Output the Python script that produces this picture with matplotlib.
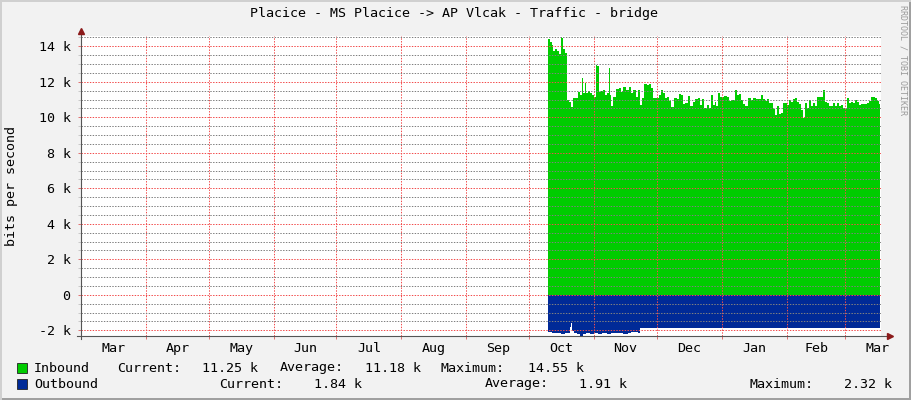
import matplotlib
matplotlib.use("Agg")
import matplotlib.pyplot as plt
from matplotlib.patches import Rectangle
from matplotlib.ticker import FixedLocator, MultipleLocator, FuncFormatter

# -------------------- data (days since 1 Mar, values in k bit/s) --------------------
month_labels = ['Mar', 'Apr', 'May', 'Jun', 'Jul', 'Aug', 'Sep',
                'Oct', 'Nov', 'Dec', 'Jan', 'Feb', 'Mar']
month_starts = [0, 31, 61, 92, 122, 153, 184, 214, 245, 275, 306, 337, 365, 396]

in_days = [223.0, 224.0, 224.9, 225.5, 226.5, 227.5, 228.1, 229.1, 229.7, 230.3,
           231.3, 232.3, 233.2, 234.1, 235.1, 236.4, 237.3, 238.3, 239.2, 239.9,
           240.5, 241.2, 242.1, 243.1, 244.0, 245.0, 245.9, 246.6, 247.2, 248.2,
           249.4, 250.4, 251.3, 252.0, 252.6, 253.2, 254.2, 255.5, 256.8, 258.0,
           259.0, 260.3, 261.6, 262.5, 263.8, 265.0, 266.0, 266.9, 267.9, 268.8,
           270.1, 271.4, 272.3, 273.3, 274.6, 275.9, 276.8, 277.8, 279.0, 280.0,
           280.9, 281.9, 283.2, 284.5, 285.7, 286.7, 287.6, 288.6, 289.8, 290.8,
           292.1, 293.4, 294.6, 295.6, 296.5, 297.5, 298.8, 299.7, 300.7, 301.7,
           302.6, 303.2, 304.2, 305.2, 306.1, 307.1, 308.4, 309.3, 310.6, 311.5,
           312.5, 313.4, 314.4, 315.3, 316.3, 317.2, 318.5, 319.8, 321.1, 322.3,
           323.6, 324.6, 325.5, 326.5, 327.4, 328.4, 329.3, 330.3, 331.2, 332.2,
           333.2, 334.1, 335.1, 336.0, 337.0, 337.9, 338.9, 340.2, 341.1, 342.1,
           343.0, 344.0, 344.6, 345.6, 346.5, 347.8, 348.8, 349.7, 350.7, 351.6,
           352.9, 354.2, 355.1, 356.1, 357.0, 358.0, 359.0, 359.9, 360.9, 361.8,
           362.8, 363.7, 364.7, 365.6, 366.6, 367.5, 368.5, 369.4, 370.4, 371.3,
           372.6, 373.9, 375.2, 376.1, 377.1, 378.3, 379.3, 380.3, 381.2, 381.7]
inbound = [14.41, 14.27, 14.08, 13.76, 13.86, 13.76, 13.56, 14.52, 14.46, 13.84,
           13.65, 10.98, 10.89, 10.56, 11.08, 11.08, 11.45, 11.27, 12.23, 11.37,
           11.93, 11.37, 11.49, 11.37, 11.27, 11.17, 12.96, 12.90, 11.40, 11.49,
           11.55, 11.27, 11.37, 12.77, 11.27, 10.61, 11.17, 11.60, 11.64, 11.45,
           11.73, 11.55, 11.73, 11.37, 11.55, 11.17, 11.55, 10.71, 11.08, 11.87,
           11.83, 11.88, 11.64, 11.08, 11.08, 11.27, 11.51, 11.37, 11.08, 11.13,
           10.94, 10.56, 11.08, 11.02, 11.31, 11.27, 10.76, 10.80, 11.22, 10.61,
           10.89, 11.04, 11.11, 10.71, 11.02, 10.52, 10.71, 10.52, 11.27, 10.71,
           10.89, 10.65, 11.37, 11.17, 11.17, 11.22, 11.17, 10.94, 10.98, 10.98,
           11.55, 11.27, 11.33, 10.98, 10.76, 10.65, 11.08, 10.98, 11.08, 11.02,
           11.02, 11.27, 11.02, 10.94, 11.02, 10.80, 10.80, 10.46, 10.14, 10.61,
           10.20, 10.27, 10.83, 10.80, 10.71, 10.98, 10.89, 11.02, 11.08, 10.89,
           10.76, 10.42, 9.96, 10.83, 10.52, 10.98, 10.65, 10.83, 10.65, 11.17,
           11.17, 11.51, 10.89, 10.80, 10.65, 10.61, 10.80, 10.65, 10.80, 10.61,
           10.71, 10.52, 10.46, 11.08, 10.80, 10.89, 10.83, 10.98, 10.89, 10.71,
           10.74, 10.74, 10.80, 10.94, 11.13, 11.17, 11.08, 10.94, 10.76, 10.76]

out_days = [223.0, 225.0, 227.0, 229.0, 231.0, 232.5, 233.5, 234.0, 234.6, 235.5,
            237.0, 238.5, 239.5, 241.0, 243.0, 245.0, 247.0, 249.0, 251.0, 253.0,
            255.0, 257.0, 259.0, 261.0, 262.5, 264.0, 266.0, 267.0, 290.0, 320.0,
            350.0, 381.7]
outbound = [2.12, 2.15, 2.13, 2.18, 2.14, 2.16, 1.80, 1.61, 2.05, 2.16,
            2.20, 2.32, 2.19, 2.15, 2.18, 2.14, 2.19, 2.16, 2.20, 2.15,
            2.17, 2.14, 2.19, 2.13, 2.10, 2.12, 2.15, 1.87, 1.87, 1.87,
            1.87, 1.87]

legend_rows = [
    ('Inbound', '#00CC00', [('Current:', '11.25 k'), ('Average:', '11.18 k'), ('Maximum:', '14.55 k')]),
    ('Outbound', '#002A97', [('Current:', '1.84 k'), ('Average:', '1.91 k'), ('Maximum:', '2.32 k')]),
]

# -------------------- figure --------------------
W, H = 911, 400
BG = '#F2F2F2'
MONO = 'DejaVu Sans Mono'
FS = 9.6

def fx(px):
    return px / W

def fy(py):
    return 1 - py / H

fig = plt.figure(figsize=(W / 100, H / 100), dpi=100, facecolor=BG)
ax = fig.add_axes([fx(81), fy(336), 800 / W, 300 / H])
ax.set_facecolor('white')

ax.fill_between(in_days, [v * 1000 for v in inbound], step='post',
                color='#00CC00', lw=0, zorder=1)
ax.fill_between(out_days, [-v * 1000 for v in outbound], step='post',
                color='#002A97', lw=0, zorder=1)

ax.set_xlim(0, 382)
ax.set_ylim(-2320, 14580)

# grid (drawn over the data like rrdtool)
dot = (0, (1.4, 1.4))
major_col = (0.95, 0.3, 0.3, 0.34)
minor_col = (0.5, 0.5, 0.5, 0.2)
ax.set_axisbelow(False)
ax.yaxis.set_major_locator(MultipleLocator(2000))
ax.yaxis.set_minor_locator(MultipleLocator(500))
ax.yaxis.set_major_formatter(FuncFormatter(
    lambda v, p: '0' if v == 0 else f'{int(v / 1000)} k'))
ax.grid(True, axis='y', which='minor', color=minor_col, lw=0.72, linestyle=dot)
ax.grid(True, axis='y', which='major', color=major_col, lw=0.72, linestyle=dot)

ax.xaxis.set_major_locator(FixedLocator(month_starts[1:13]))
ax.xaxis.set_major_formatter(FuncFormatter(lambda v, p: ''))
mids = [(a + b) / 2 for a, b in zip(month_starts[:-1], month_starts[1:])]
ax.xaxis.set_minor_locator(FixedLocator(mids))
ax.xaxis.set_minor_formatter(FuncFormatter(lambda v, p: month_labels[mids.index(v)] if v in mids else ''))
ax.grid(True, axis='x', which='major', color=major_col, lw=0.72, linestyle=dot)

ax.tick_params(axis='y', which='major', length=2.5, width=0.7, color='#E07070',
               labelsize=FS, pad=5, labelfontfamily=MONO)
ax.tick_params(axis='y', which='minor', length=2, width=0.7, color='#C8C8C8')
ax.tick_params(axis='x', which='major', length=2.5, width=0.7, color='#E07070')
ax.tick_params(axis='x', which='minor', length=0, labelsize=FS, pad=4,
               labelfontfamily=MONO)

for s in ax.spines.values():
    s.set_visible(False)

# axis lines with arrows
axis_col = '#555555'
ax.plot([0, 0], [-3 / 300, 1 + 3 / 300], transform=ax.transAxes, color=axis_col,
        lw=0.8, clip_on=False, zorder=5)
ax.plot([-4 / 800, 1 + 7 / 800], [0, 0], transform=ax.transAxes, color=axis_col,
        lw=0.8, clip_on=False, zorder=5)
ax.plot([0], [1 + 5 / 300], marker='^', ms=4, color='#8B1A1A', transform=ax.transAxes,
        clip_on=False, zorder=6)
ax.plot([1 + 9 / 800], [0], marker='>', ms=4, color='#8B1A1A', transform=ax.transAxes,
        clip_on=False, zorder=6)

# title, axis label, watermark
fig.text(fx(454), fy(13), 'Placice - MS Placice -> AP Vlcak - Traffic - bridge',
         ha='center', va='center', family=MONO, fontsize=FS)
fig.text(fx(12), fy(186), 'bits per second', rotation=90, ha='center', va='center',
         family=MONO, fontsize=FS)
fig.text(fx(903), fy(60), 'RRDTOOL / TOBI OETIKER', rotation=270, ha='center',
         va='center', family=MONO, fontsize=6, color='#9A9A9A')

# legend
row_y = [368, 384]
label_x = [[116.7, 279.3, 440.7], [219.3, 485, 750]]
value_end = [[258.5, 421, 583.5], [362, 627, 892]]
for (name, col, stats), y, lx, vx in zip(legend_rows, row_y, label_x, value_end):
    fig.patches.append(Rectangle((fx(17.3), fy(y + 4.7)), 9.4 / W, 9.4 / H,
                                 transform=fig.transFigure, facecolor=col,
                                 edgecolor='#222222', lw=0.6))
    fig.text(fx(34), fy(y), name, ha='left', va='center', family=MONO, fontsize=FS)
    for (lab, val), x0, x1 in zip(stats, lx, vx):
        fig.text(fx(x0), fy(y), lab, ha='left', va='center', family=MONO, fontsize=FS)
        fig.text(fx(x1), fy(y), val, ha='right', va='center', family=MONO, fontsize=FS)

# rrdtool-like 3d frame
fig.patches.append(Rectangle((1 - 2.5 / W, 0), 2.5 / W, 1, transform=fig.transFigure,
                             facecolor='#A0A0A0', lw=0))
fig.patches.append(Rectangle((0, 0), 1, 2.5 / H, transform=fig.transFigure,
                             facecolor='#A0A0A0', lw=0))
fig.patches.append(Rectangle((0, 1 - 1.5 / H), 1, 1.5 / H, transform=fig.transFigure,
                             facecolor='#D0D0D0', lw=0))
fig.patches.append(Rectangle((0, 0), 1.5 / W, 1, transform=fig.transFigure,
                             facecolor='#D0D0D0', lw=0))

fig.savefig('out.png', dpi=100, facecolor=BG)
